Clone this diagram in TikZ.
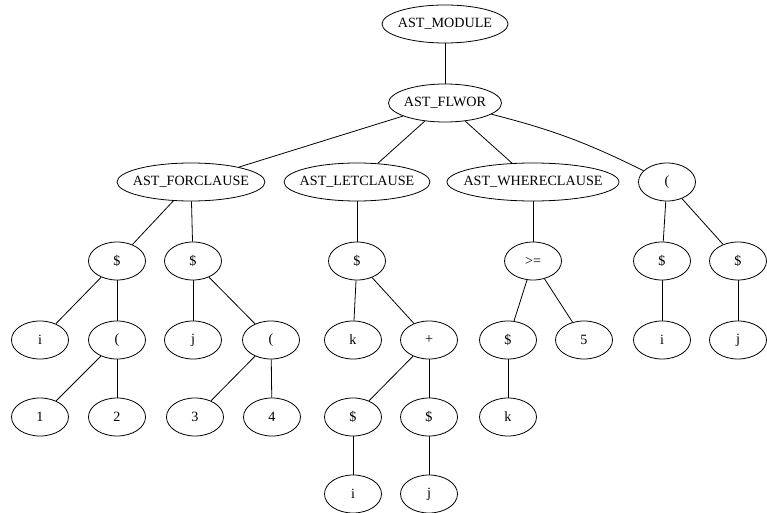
\documentclass[tikz,border=0pt]{standalone}
\usepackage{fontspec}
\setmainfont{Liberation Serif}
\usetikzlibrary{shapes.geometric}
% zero-width label so the ellipse size is set by minimum width/height alone
\newcommand\ctrlabel[1]{\makebox[0pt]{#1}}
\begin{document}
\begin{tikzpicture}[x=0.75pt,y=-0.75pt,
  treenode/.style={draw,ellipse,line width=0.6pt,inner sep=0pt,
    minimum height=28.5pt,minimum width=42.75pt,
    font=\fontsize{10.6}{12}\selectfont},
  edge/.style={draw,line width=0.6pt}]
\useasboundingbox (0,0) rectangle (767,513);
% upper levels
\node[treenode,minimum width=94.5pt] (mod) at (445,24) {\ctrlabel{AST\_MODULE}};
\node[treenode,minimum width=84.75pt] (flwor) at (445,103) {\ctrlabel{AST\_FLWOR}};
\node[treenode,minimum width=111pt] (for) at (191,182) {\ctrlabel{AST\_FORCLAUSE}};
\node[treenode,minimum width=109.5pt] (let) at (357,182) {\ctrlabel{AST\_LETCLAUSE}};
\node[treenode,minimum width=129pt] (where) at (533,182) {\ctrlabel{AST\_WHERECLAUSE}};
\node[treenode] (par) at (667,182) {\ctrlabel{(}};
% level 4
\node[treenode] (d1) at (117,261) {\ctrlabel{\$}};
\node[treenode] (d2) at (193,261) {\ctrlabel{\$}};
\node[treenode] (d3) at (357,261) {\ctrlabel{\$}};
\node[treenode] (ge) at (533,261) {\ctrlabel{>=}};
\node[treenode] (d4) at (662,261) {\ctrlabel{\$}};
\node[treenode] (d5) at (738,261) {\ctrlabel{\$}};
% level 5
\node[treenode] (i1) at (40,340) {\ctrlabel{i}};
\node[treenode] (p1) at (117,340) {\ctrlabel{(}};
\node[treenode] (j1) at (193,340) {\ctrlabel{j}};
\node[treenode] (p2) at (271,340) {\ctrlabel{(}};
\node[treenode] (k1) at (353,340) {\ctrlabel{k}};
\node[treenode] (plus) at (429,340) {\ctrlabel{+}};
\node[treenode] (d6) at (508,340) {\ctrlabel{\$}};
\node[treenode] (five) at (584,340) {\ctrlabel{5}};
\node[treenode] (i2) at (662,340) {\ctrlabel{i}};
\node[treenode] (j2) at (738,340) {\ctrlabel{j}};
% level 6
\node[treenode] (n1) at (40,417) {\ctrlabel{1}};
\node[treenode] (n2) at (117,417) {\ctrlabel{2}};
\node[treenode] (n3) at (195,417) {\ctrlabel{3}};
\node[treenode] (n4) at (272,417) {\ctrlabel{4}};
\node[treenode] (d7) at (353,417) {\ctrlabel{\$}};
\node[treenode] (d8) at (429,417) {\ctrlabel{\$}};
\node[treenode] (k2) at (508,417) {\ctrlabel{k}};
% level 7
\node[treenode] (i3) at (353,494) {\ctrlabel{i}};
\node[treenode] (j3) at (429,494) {\ctrlabel{j}};
% edges
\path[edge] (mod) -- (flwor);
\path[edge] (flwor) -- (for);
\path[edge] (flwor) -- (let);
\path[edge] (flwor) -- (where);
\path[edge] (flwor) to[bend left=6] (par);
\path[edge] (for) -- (d1);
\path[edge] (for) -- (d2);
\path[edge] (let) -- (d3);
\path[edge] (where) -- (ge);
\path[edge] (par) -- (d4);
\path[edge] (par) -- (d5);
\path[edge] (d1) -- (i1);
\path[edge] (d1) -- (p1);
\path[edge] (d2) -- (j1);
\path[edge] (d2) -- (p2);
\path[edge] (d3) -- (k1);
\path[edge] (d3) -- (plus);
\path[edge] (ge) -- (d6);
\path[edge] (ge) -- (five);
\path[edge] (d4) -- (i2);
\path[edge] (d5) -- (j2);
\path[edge] (p1) -- (n1);
\path[edge] (p1) -- (n2);
\path[edge] (p2) -- (n3);
\path[edge] (p2) -- (n4);
\path[edge] (plus) -- (d7);
\path[edge] (plus) -- (d8);
\path[edge] (d6) -- (k2);
\path[edge] (d7) -- (i3);
\path[edge] (d8) -- (j3);
\end{tikzpicture}
\end{document}
